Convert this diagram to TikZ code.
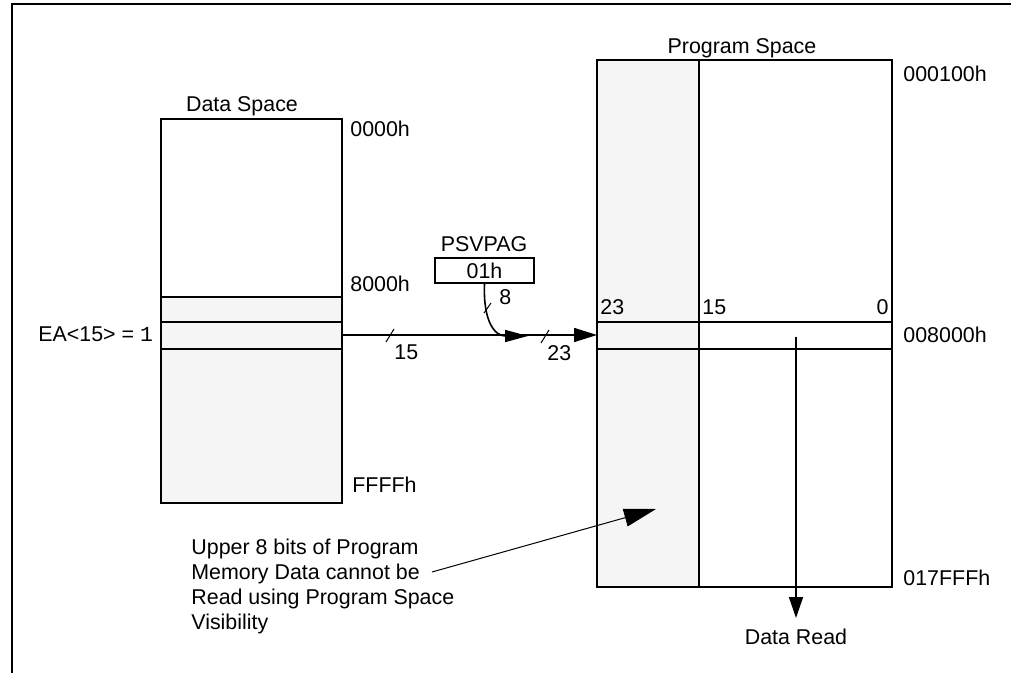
\documentclass[tikz,border=0pt]{standalone}
\usepackage{fontspec}
\setmainfont{Liberation Sans}
\newfontfamily\monofont{Liberation Mono}
\usetikzlibrary{arrows.meta}
\definecolor{memgray}{RGB}{245,245,245}
\begin{document}
\begin{tikzpicture}[x=0.5pt,y=-0.5pt,
  every node/.style={font=\fontsize{10.7}{12.5}\selectfont, inner sep=0pt},
  lbl/.style={anchor=base west},
  clbl/.style={anchor=base},
  frameline/.style={line width=1pt},
  boxline/.style={line width=1pt},
  conn/.style={line width=0.8pt},
  thinconn/.style={line width=0.5pt},
  bigtip/.style={-{Triangle[length=11.5pt,width=7pt]}},
  ticktip/.style={line width=0.5pt}
]
\useasboundingbox (0,0) rectangle (1011,673);
% frame
\coordinate (fl) at (12,673);
\coordinate (ftl) at (12,4.5);
\coordinate (ftr) at (1011,4.5);
\draw[frameline] (fl) -- (ftl) -- (ftr);

% ---------- Data space ----------
\fill[memgray] (161,297) rectangle (342,503);
\draw[boxline] (161,119) rectangle (342,503);
\draw[boxline] (161,297) -- (342,297);
\draw[boxline] (161,322) -- (342,322);
\draw[boxline] (161,349) -- (342,349);
\node[clbl] (dslabel) at (242,112) {Data Space};
\node[lbl] (a0000) at (350,137) {0000h};
\node[lbl] (a8000) at (350,292) {8000h};
\node[lbl] (affff) at (352,492) {FFFFh};
\node[lbl] (ea) at (38,342) {EA<15> = {\monofont 1}};

% ---------- Program space ----------
\fill[memgray] (597,60) rectangle (699,587);
\draw[boxline] (597,60) rectangle (892,587);
\draw[boxline] (699,60) -- (699,587);
\draw[boxline] (597,322) -- (892,322);
\draw[boxline] (597,349) -- (892,349);
\node[clbl] (pslabel) at (742,54) {Program Space};
\node[lbl] (p100) at (903,82) {000100h};
\node[lbl] (p8000) at (903,343) {008000h};
\node[lbl] (p17fff) at (903,585) {017FFFh};
\node[lbl] (b23) at (600,315) {23};
\node[lbl] (b15) at (702,315) {15};
\node[anchor=base east] (b0) at (889,315) {0};

% ---------- PSVPAG ----------
\node[clbl] (psvpag) at (484,252) {PSVPAG};
\node[draw, boxline, minimum width=49.5pt, minimum height=12.5pt] (pag) at (484.5,270.5) {01h};

% ---------- main address arrow ----------
\coordinate (dsout) at (342,335);
\coordinate (psin) at (597,335);
\draw[conn, bigtip] (dsout) -- (psin);
\coordinate (t1a) at (386,342); \coordinate (t1b) at (394,329);
\draw[ticktip] (t1a) -- (t1b);
\node[lbl] (n15) at (394,360) {15};
\coordinate (t2a) at (541,343); \coordinate (t2b) at (549,330);
\draw[ticktip] (t2a) -- (t2b);
\node[lbl] (n23) at (547,361) {23};

% ---------- PSVPAG curve ----------
\coordinate (join) at (528,336);
\draw[conn, -{Triangle[length=11.5pt,width=6pt]}] (pag.south) .. controls (483,322) and (495,336) .. (join);
\coordinate (t3a) at (484,313); \coordinate (t3b) at (491,303);
\draw[ticktip] (t3a) -- (t3b);
\node[lbl] (n8) at (499,305) {8};

% ---------- Data read ----------
\coordinate (drtop) at (796,337);
\node[clbl] (dread) at (796,644) {Data Read};
\coordinate (drend) at (796,618);
\draw[conn, -{Triangle[length=10.5pt,width=7pt]}] (drtop) -- (drend);

% ---------- annotation ----------
\node[anchor=base west, align=left] (note) at (191,629) {Upper 8 bits of Program\\Memory Data cannot be\\Read using Program Space\\Visibility};
\coordinate (notestart) at (432,572);
\coordinate (notetip) at (656,509);
\draw[thinconn, -{Triangle[length=16pt,width=9pt]}] (notestart) -- (notetip);
\end{tikzpicture}
\end{document}
